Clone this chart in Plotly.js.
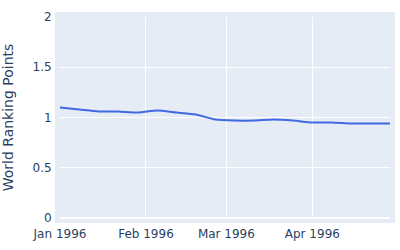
<!DOCTYPE html>
<html>
<head>
<meta charset="utf-8">
<script src="https://cdn.plot.ly/plotly-3.0.1.min.js"></script>
<style>html,body{margin:0;padding:0;background:#fff;}#chart{width:400px;height:250px;}</style>
</head>
<body>
<div id="chart"></div>
<script>
var dates = ["1996-01-01","1996-01-08","1996-01-15","1996-01-22","1996-01-29","1996-02-05","1996-02-12","1996-02-19","1996-02-26","1996-03-04","1996-03-11","1996-03-18","1996-03-25","1996-04-01","1996-04-08","1996-04-15","1996-04-22","1996-04-29"];
var points = [1.10,1.08,1.06,1.06,1.05,1.07,1.05,1.03,0.98,0.97,0.97,0.98,0.97,0.95,0.95,0.94,0.94,0.94];
var tickVals = ["1996-01-01","1996-02-01","1996-03-01","1996-04-01"];
var tickText = ["Jan 1996","Feb 1996","Mar 1996","Apr 1996"];
var yTitle = "World Ranking Points";

var trace = {
  x: dates, y: points, type: "scatter", mode: "lines",
  line: {color: "#4169E1", width: 2, shape: "spline", smoothing: 0.6},
  hoverinfo: "skip"
};
var pw = 330, ph = 201, pad = 5;
var layout = {
  width: 400, height: 250,
  margin: {l: 60, r: 10, t: 17, b: 32},
  paper_bgcolor: "#ffffff",
  plot_bgcolor: "#E5ECF6",
  font: {family: "DejaVu Sans", size: 12, color: "#2a3f5f"},
  showlegend: false,
  xaxis: {
    type: "date",
    range: [dates[0], dates[dates.length-1]],
    tickvals: tickVals, ticktext: tickText,
    showgrid: true, gridcolor: "#ffffff", gridwidth: 1,
    zeroline: false, showline: false,
    ticks: "outside", ticklen: 5, tickcolor: "rgba(0,0,0,0)",
    tickfont: {size: 12, color: "#2a3f5f"}
  },
  yaxis: {
    range: [0, 2],
    tickvals: [0, 0.5, 1, 1.5, 2],
    ticktext: ["0", "0.5", "1", "1.5", "2"],
    showgrid: true, gridcolor: "#ffffff", gridwidth: 1,
    zeroline: true, zerolinecolor: "#ffffff", zerolinewidth: 2,
    showline: false,
    ticks: "outside", ticklen: 5, tickcolor: "rgba(0,0,0,0)",
    tickfont: {size: 12, color: "#2a3f5f"},
    title: {text: yTitle, font: {size: 14, color: "#2a3f5f"}, standoff: 15}
  },
  shapes: [{
    type: "rect", xref: "paper", yref: "paper", layer: "below",
    x0: -pad/pw, x1: 1 + pad/pw, y0: -pad/ph, y1: 1 + pad/ph,
    fillcolor: "#E5ECF6", line: {width: 0}
  }]
};
Plotly.newPlot("chart", [trace], layout, {displayModeBar: false, staticPlot: true});
</script>
</body>
</html>
